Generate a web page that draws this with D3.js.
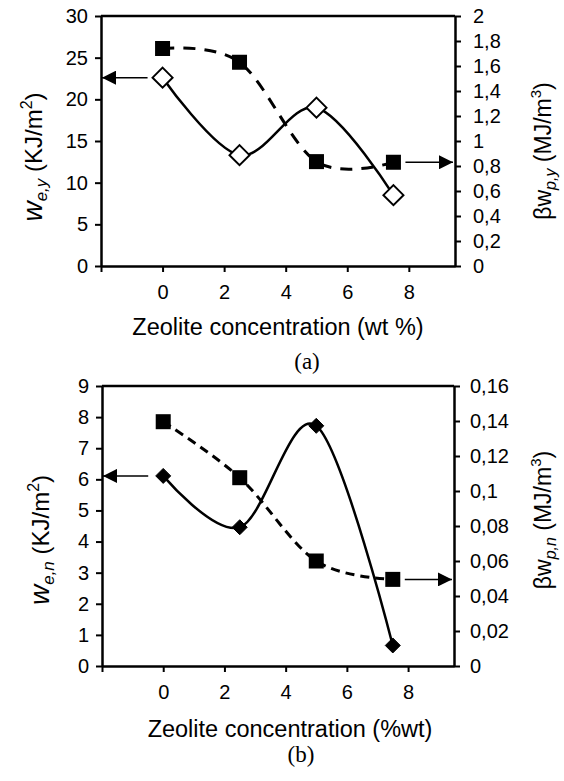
<!DOCTYPE html>
<html>
<head>
<meta charset="utf-8">
<script src="https://cdn.jsdelivr.net/npm/d3@7"></script>
<style>
  body { margin: 0; background: white; }
  text { font-family: "Liberation Sans", Arial, sans-serif; fill: black; }
</style>
</head>
<body>
<div id="wrapper"></div>
<script>
// zeolite concentration (wt %)
const concentration = [0, 2.5, 5, 7.5]
const xTicks = [-2, 0, 2, 4, 6, 8]

// panel (a)
const weY = [22.6, 13.3, 19.0, 8.5]
const bwpY = [1.74, 1.63, 0.835, 0.83]
const leftTicksA = [0, 5, 10, 15, 20, 25, 30]
const rightTicksA = [0, 0.2, 0.4, 0.6, 0.8, 1, 1.2, 1.4, 1.6, 1.8, 2]

// panel (b)
const weN = [6.11, 4.46, 7.72, 0.66]
const bwpN = [0.1396, 0.1076, 0.06, 0.0495]
const leftTicksB = [0, 1, 2, 3, 4, 5, 6, 7, 8, 9]
const rightTicksB = [0, 0.02, 0.04, 0.06, 0.08, 0.1, 0.12, 0.14, 0.16]

const width = 564
const height = 781

const svg = d3.select('#wrapper')
  .append('svg')
    .attr('width', width)
    .attr('height', height)

const defs = svg.append('defs')
defs.append('marker')
    .attr('id', 'arrow')
    .attr('viewBox', '0 0 10 10')
    .attr('refX', 10)
    .attr('refY', 5)
    .attr('markerUnits', 'userSpaceOnUse')
    .attr('markerWidth', 15)
    .attr('markerHeight', 14)
    .attr('orient', 'auto')
  .append('path')
    .attr('d', 'M0,0 L10,5 L0,10 Z')
    .attr('fill', 'black')

const comma = d => String(d).replace('.', ',')

const drawPanel = (p) => {
  const x = d3.scaleLinear()
    .domain([-2, 9.5])
    .range([p.left, p.right])

  const yL = d3.scaleLinear()
    .domain([0, p.leftMax])
    .range([p.bottom, p.top])

  const yR = d3.scaleLinear()
    .domain([0, p.rightMax])
    .range([p.bottom, p.top])

  const g = svg.append('g')

  // axes
  const xAxis = g.append('g')
      .attr('transform', `translate(0, ${p.bottom})`)
      .call(d3.axisBottom(x).tickValues(xTicks).tickSize(6).tickSizeOuter(0)
        .tickFormat(d => d < 0 ? '' : d).tickPadding(13))
  const leftAxis = g.append('g')
      .attr('transform', `translate(${p.left}, 0)`)
      .call(d3.axisLeft(yL).tickValues(p.leftTicks).tickSize(6).tickSizeOuter(0)
        .tickFormat(d => d).tickPadding(7))
  const rightAxis = g.append('g')
      .attr('transform', `translate(${p.right}, 0)`)
      .call(d3.axisRight(yR).tickValues(p.rightTicks).tickSize(6).tickSizeOuter(0)
        .tickFormat(comma).tickPadding(p.rightPad))

  for (const ax of [xAxis, leftAxis, rightAxis]) {
    ax.attr('font-family', null)
    ax.select('.domain').attr('stroke-width', 2.5)
    ax.selectAll('.tick line').attr('stroke-width', 2)
    ax.selectAll('.tick text').style('font-size', '20px').attr('fill', 'black')
  }

  // top border
  g.append('line')
      .attr('x1', p.left).attr('x2', p.right)
      .attr('y1', p.top).attr('y2', p.top)
      .attr('stroke', 'black')
      .attr('stroke-width', 2.5)

  // curves
  const line = d3.line().curve(d3.curveCardinal.tension(0))

  g.append('path')
      .attr('d', line(concentration.map((c, i) => [x(c), yR(p.right_[i])])))
      .attr('fill', 'none')
      .attr('stroke', 'black')
      .attr('stroke-width', 3)
      .attr('stroke-dasharray', p.dash)

  g.append('path')
      .attr('d', line(concentration.map((c, i) => [x(c), yL(p.left_[i])])))
      .attr('fill', 'none')
      .attr('stroke', 'black')
      .attr('stroke-width', 2.5)

  // square markers
  g.selectAll('.sq')
    .data(concentration)
    .join('rect')
      .attr('x', (d, i) => x(d) - 7.5)
      .attr('y', (d, i) => yR(p.right_[i]) - 7.5)
      .attr('width', 15)
      .attr('height', 15)
      .attr('fill', 'black')

  // diamond markers
  const dSize = p.openDiamond ? 10 : 7.5
  g.selectAll('.dm')
    .data(concentration)
    .join('path')
      .attr('d', (d, i) => {
        const cx = x(d), cy = yL(p.left_[i])
        return `M${cx},${cy - dSize} L${cx + dSize},${cy} L${cx},${cy + dSize} L${cx - dSize},${cy} Z`
      })
      .attr('fill', p.openDiamond ? 'white' : 'black')
      .attr('stroke', 'black')
      .attr('stroke-width', p.openDiamond ? 2 : 1)

  // arrows pointing to the axis each series uses
  const ya = yL(p.left_[0])
  g.append('line')
      .attr('x1', x(0) - 15).attr('y1', ya)
      .attr('x2', x(-2) + 1).attr('y2', ya)
      .attr('stroke', 'black')
      .attr('stroke-width', 1.5)
      .attr('marker-end', 'url(#arrow)')
  const yb = yR(p.right_[3])
  g.append('line')
      .attr('x1', x(7.5) + 12).attr('y1', yb)
      .attr('x2', x(9.5) - 2).attr('y2', yb)
      .attr('stroke', 'black')
      .attr('stroke-width', 1.5)
      .attr('marker-end', 'url(#arrow)')

  // axis titles
  const lt = g.append('text')
      .attr('transform', `translate(${p.leftTitleX}, ${p.leftTitleY}) rotate(-90)`)
      .attr('text-anchor', 'middle')
      .style('font-size', '24px')
  lt.append('tspan').style('font-style', 'italic').style('font-size', '28px').text('w')
  lt.append('tspan').style('font-style', 'italic').style('font-size', '17px').attr('dy', 5).text(p.sub)
  lt.append('tspan').attr('dy', -5).text(' (KJ/m')
  lt.append('tspan').style('font-size', '16px').attr('dy', -10).text('2')
  lt.append('tspan').attr('dy', 10).text(')')

  const rt = g.append('text')
      .attr('transform', `translate(${p.rightTitleX}, ${p.rightTitleY}) rotate(-90)`)
      .attr('text-anchor', 'middle')
      .style('font-size', '23px')
  rt.append('tspan').text('βw')
  rt.append('tspan').style('font-style', 'italic').style('font-size', '16px').attr('dy', 5).text(p.subR)
  rt.append('tspan').attr('dy', -5).text(' (MJ/m')
  rt.append('tspan').style('font-size', '15px').attr('dy', -10).text('3')
  rt.append('tspan').attr('dy', 10).text(')')

  g.append('text')
      .attr('x', p.xTitleX)
      .attr('y', p.xTitleY)
      .attr('text-anchor', 'middle')
      .style('font-size', '23.5px')
      .text(p.xTitle)

  g.append('text')
      .attr('x', p.capX)
      .attr('y', p.capY)
      .attr('text-anchor', 'middle')
      .style('font-family', '"Liberation Serif", "Times New Roman", serif')
      .style('font-size', '23px')
      .text(p.caption)
}

drawPanel({
  left: 101, right: 455, top: 16, bottom: 266,
  leftMax: 30, rightMax: 2,
  leftTicks: leftTicksA, rightTicks: rightTicksA, rightPad: 12,
  left_: weY, right_: bwpY,
  openDiamond: true, dash: '12,9',
  sub: 'e,y', subR: 'p,y',
  leftTitleX: 42, leftTitleY: 157,
  rightTitleX: 551, rightTitleY: 151,
  xTitle: 'Zeolite concentration (wt %)', xTitleX: 278, xTitleY: 335,
  caption: '(a)', capX: 307, capY: 369,
})

drawPanel({
  left: 102, right: 454, top: 386, bottom: 666,
  leftMax: 9, rightMax: 0.16,
  leftTicks: leftTicksB, rightTicks: rightTicksB, rightPad: 10,
  left_: weN, right_: bwpN,
  openDiamond: false, dash: '9,6',
  sub: 'e,n', subR: 'p,n',
  leftTitleX: 49, leftTitleY: 540,
  rightTitleX: 551, rightTitleY: 520,
  xTitle: 'Zeolite concentration (%wt)', xTitleX: 290, xTitleY: 737,
  caption: '(b)', capX: 301, capY: 762,
})
</script>
</body>
</html>
